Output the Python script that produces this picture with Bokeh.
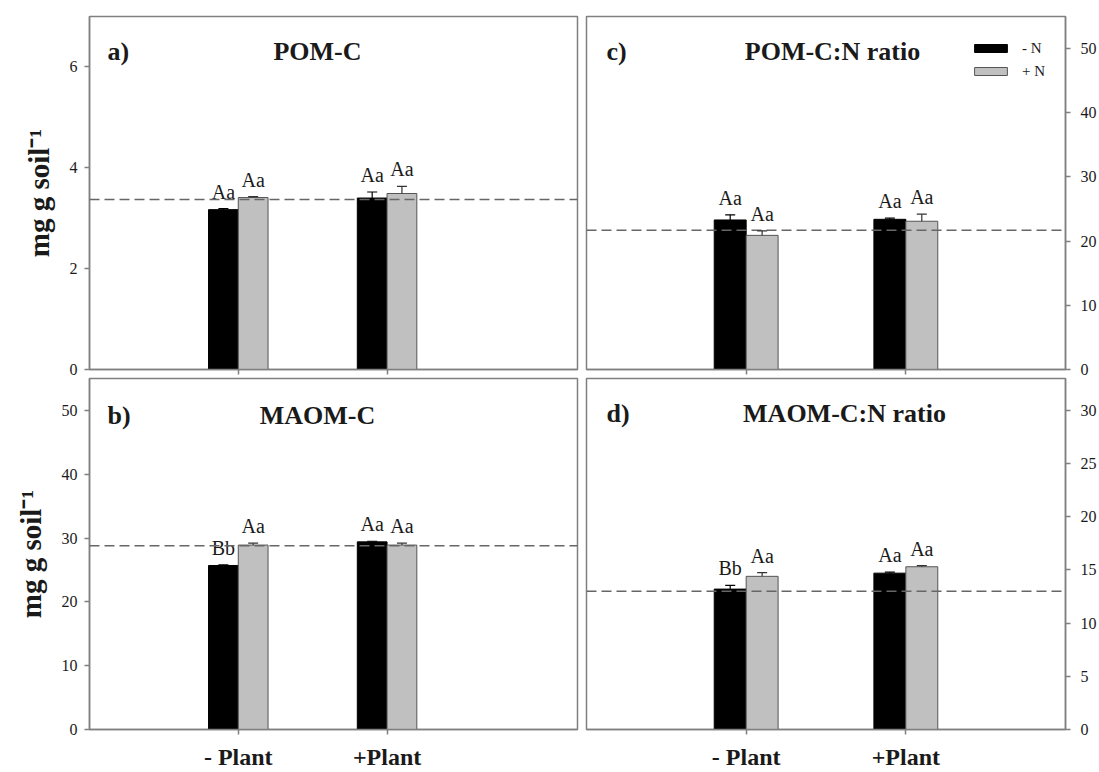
from bokeh.plotting import figure
from bokeh.models import (Range1d, FixedTicker, Span, Whisker, ColumnDataSource,
                          Label, Legend, LegendItem, TeeHead)
from bokeh.layouts import column, row
from bokeh.embed import file_html
from bokeh.resources import INLINE
from bokeh.core.properties import value

# ---------------- data ----------------
categories = ["- Plant", "+Plant"]
series_names = ["- N", "+ N"]

# a) POM-C (mg g soil-1)
pomc_minusN = [3.17, 3.40]
pomc_plusN = [3.41, 3.49]
pomc_err_minusN = [0.02, 0.12]
pomc_err_plusN = [0.02, 0.14]
pomc_letters_minusN = ["Aa", "Aa"]
pomc_letters_plusN = ["Aa", "Aa"]
pomc_ref = 3.37
pomc_ticks = [0, 2, 4, 6]

# b) MAOM-C (mg g soil-1)
maomc_minusN = [25.7, 29.4]
maomc_plusN = [28.9, 28.9]
maomc_err_minusN = [0.1, 0.1]
maomc_err_plusN = [0.3, 0.3]
maomc_letters_minusN = ["Bb", "Aa"]
maomc_letters_plusN = ["Aa", "Aa"]
maomc_ref = 28.8
maomc_ticks = [0, 10, 20, 30, 40, 50]

# c) POM-C:N ratio
pomcn_minusN = [23.3, 23.4]
pomcn_plusN = [20.9, 23.1]
pomcn_err_minusN = [0.8, 0.2]
pomcn_err_plusN = [0.7, 1.1]
pomcn_letters_minusN = ["Aa", "Aa"]
pomcn_letters_plusN = ["Aa", "Aa"]
pomcn_ref = 21.7
pomcn_ticks = [0, 10, 20, 30, 40, 50]

# d) MAOM-C:N ratio
maomcn_minusN = [13.2, 14.7]
maomcn_plusN = [14.4, 15.3]
maomcn_err_minusN = [0.35, 0.1]
maomcn_err_plusN = [0.35, 0.1]
maomcn_letters_minusN = ["Bb", "Aa"]
maomcn_letters_plusN = ["Aa", "Aa"]
maomcn_ref = 13.0
maomcn_ticks = [0, 5, 10, 15, 20, 25, 30]

# ---------------- styling ----------------
FONT = "Liberation Serif"
AXIS_GRAY = "#808080"
TEXT = "#1a1a1a"
BAR_W = 0.2


def style_axis(ax):
    ax.axis_line_color = AXIS_GRAY
    ax.axis_line_width = 1.5
    ax.major_tick_line_color = AXIS_GRAY
    ax.major_tick_line_width = 1.5
    ax.major_tick_out = 5
    ax.major_tick_in = 0
    ax.minor_tick_line_color = None
    ax.major_label_text_font = FONT
    ax.major_label_text_font_size = "16px"
    ax.major_label_text_color = TEXT


def make_panel(width, height, borders, xmax, ymax, yticks, side, vals_m, vals_p,
               err_m, err_p, let_m, let_p, ref, title, tag, title_pos, tag_pos,
               show_xlabels, ylabel=None):
    bl, br, bt, bb = borders
    p = figure(width=width, height=height, x_range=Range1d(0, xmax),
               y_range=Range1d(0, ymax), output_backend="svg",
               toolbar_location=None, y_axis_location=side,
               min_border_left=bl, min_border_right=br,
               min_border_top=bt, min_border_bottom=bb)
    p.background_fill_color = "white"
    p.border_fill_color = "white"
    p.outline_line_color = AXIS_GRAY
    p.outline_line_width = 1.5
    p.xgrid.grid_line_color = None
    p.ygrid.grid_line_color = None

    xpos = [i + 1 for i in range(len(categories))]
    xm = [x - BAR_W / 2 for x in xpos]
    xp = [x + BAR_W / 2 for x in xpos]

    src_m = ColumnDataSource(dict(x=xm, top=vals_m,
                                  upper=[v + e for v, e in zip(vals_m, err_m)],
                                  txt=let_m))
    src_p = ColumnDataSource(dict(x=xp, top=vals_p,
                                  upper=[v + e for v, e in zip(vals_p, err_p)],
                                  txt=let_p))

    span = Span(location=ref, dimension="width", line_dash="10 5",
                line_color="#666666", line_width=1.5)
    p.add_layout(span)

    r_m = p.vbar(x="x", top="top", bottom=0, width=BAR_W, source=src_m,
                 fill_color="black", line_color="black", line_width=1)
    r_p = p.vbar(x="x", top="top", bottom=0, width=BAR_W, source=src_p,
                 fill_color="#c0c0c0", line_color="#555555", line_width=1)

    for src, col in ((src_m, "black"), (src_p, "#333333")):
        w = Whisker(source=src, base="x", lower="top", upper="upper",
                    line_color=col, line_width=1.2, lower_head=None,
                    upper_head=TeeHead(size=10, line_color=col, line_width=1.2),
                    level="overlay")
        p.add_layout(w)
        p.text(x="x", y="upper", text="txt", source=src, text_align="center",
               text_baseline="bottom", y_offset=-6,
               text_font=value(FONT), text_font_size="20px", text_color=TEXT)

    # axes
    style_axis(p.xaxis[0])
    style_axis(p.yaxis[0])
    p.xaxis.ticker = FixedTicker(ticks=xpos)
    if show_xlabels:
        p.xaxis.major_label_overrides = {x: c for x, c in zip(xpos, categories)}
        p.xaxis.major_label_text_font_size = "24px"
        p.xaxis.major_label_text_font_style = "bold"
        p.xaxis.major_label_standoff = 9
    else:
        p.xaxis.major_label_overrides = {x: "" for x in xpos}
        p.xaxis.major_label_text_font_size = "1px"
        p.xaxis.major_label_standoff = 0
    p.yaxis.ticker = FixedTicker(ticks=yticks)
    p.yaxis.major_label_standoff = 7 if side == "left" else 10
    if ylabel:
        p.yaxis.axis_label = ylabel
        p.yaxis.axis_label_text_font = FONT
        p.yaxis.axis_label_text_font_style = "bold"
        p.yaxis.axis_label_text_font_size = "29px"
        p.yaxis.axis_label_text_color = TEXT
        p.yaxis.axis_label_standoff = 12

    p.add_layout(Label(x=title_pos[0], y=title_pos[1], x_units="screen",
                       y_units="screen", text=title, text_align="center",
                       text_baseline="middle", text_font=FONT,
                       text_font_style="bold", text_font_size="26px",
                       text_color=TEXT))
    p.add_layout(Label(x=tag_pos[0], y=tag_pos[1], x_units="screen",
                       y_units="screen", text=tag, text_align="left",
                       text_baseline="middle", text_font=FONT,
                       text_font_style="bold", text_font_size="26px",
                       text_color=TEXT))
    return p, r_m, r_p


LEFT_W, RIGHT_W = 581, 518
TOP_H, BOT_H = 377, 395
YLAB = "mg g soil\u207b\u00b9"

pa, _, _ = make_panel(LEFT_W, TOP_H, (89, 4, 16, 8), 3.28, 7, pomc_ticks, "left",
                      pomc_minusN, pomc_plusN, pomc_err_minusN, pomc_err_plusN,
                      pomc_letters_minusN, pomc_letters_plusN, pomc_ref,
                      "POM-C", "a)", (228, 318), (18, 318), False, YLAB)
pb, _, _ = make_panel(LEFT_W, BOT_H, (89, 4, 1, 42), 3.28, 55, maomc_ticks, "left",
                      maomc_minusN, maomc_plusN, maomc_err_minusN, maomc_err_plusN,
                      maomc_letters_minusN, maomc_letters_plusN, maomc_ref,
                      "MAOM-C", "b)", (228, 314), (18, 314), True, YLAB)
pc, rcm, rcp = make_panel(RIGHT_W, TOP_H, (5, 34, 16, 8), 3.0, 55, pomcn_ticks, "right",
                          pomcn_minusN, pomcn_plusN, pomcn_err_minusN, pomcn_err_plusN,
                          pomcn_letters_minusN, pomcn_letters_plusN, pomcn_ref,
                          "POM-C:N ratio", "c)", (246, 318), (20, 318), False)
pd_, _, _ = make_panel(RIGHT_W, BOT_H, (5, 34, 1, 42), 3.0, 33, maomcn_ticks, "right",
                       maomcn_minusN, maomcn_plusN, maomcn_err_minusN, maomcn_err_plusN,
                       maomcn_letters_minusN, maomcn_letters_plusN, maomcn_ref,
                       "MAOM-C:N ratio", "d)", (258, 316), (20, 316), True)

legend = Legend(items=[LegendItem(label=series_names[0], renderers=[rcm]),
                       LegendItem(label=series_names[1], renderers=[rcp])],
                location=(384, 288), glyph_width=41, glyph_height=10,
                label_height=20, spacing=3, padding=0, margin=0,
                border_line_color=None, background_fill_alpha=0,
                label_text_font=FONT, label_text_font_size="15px",
                label_text_color=TEXT, label_standoff=11)
pc.add_layout(legend)

layout = column(row(pa, pc), row(pb, pd_))
open("out.html", "w").write(file_html(layout, INLINE))
